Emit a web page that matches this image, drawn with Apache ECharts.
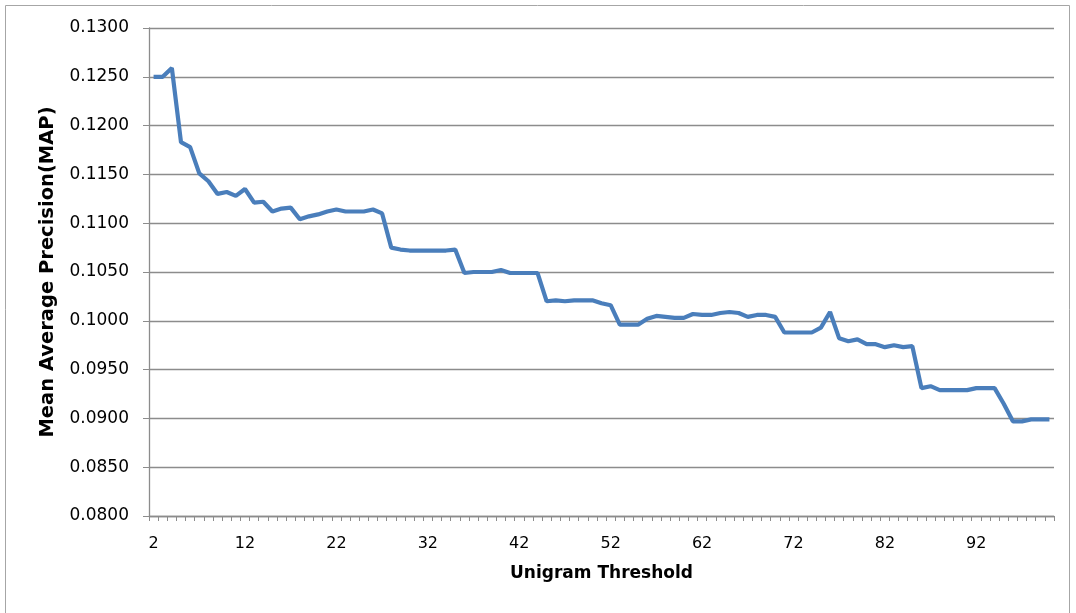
<!DOCTYPE html>
<html>
<head>
<meta charset="utf-8">
<script src="https://cdn.jsdelivr.net/npm/echarts@6/dist/echarts.min.js"></script>
<style>
  html, body { margin: 0; padding: 0; background: #fff; }
  #chart { width: 1076px; height: 613px; }
</style>
</head>
<body>
<div id="chart"></div>
<script>
// unigram thresholds 2..100
const thresholds = [];
for (let t = 2; t <= 100; t++) thresholds.push(String(t));

// MAP, one value per threshold
const mapValues = [
  0.1250, 0.1250, 0.1259, 0.1183, 0.1178, 0.1151, 0.1143, 0.1130, 0.1132, 0.1128,
  0.1135, 0.1121, 0.1122, 0.1112, 0.1115, 0.1116, 0.1104, 0.1107, 0.1109, 0.1112,
  0.1114, 0.1112, 0.1112, 0.1112, 0.1114, 0.1110, 0.1075, 0.1073, 0.1072, 0.1072,
  0.1072, 0.1072, 0.1072, 0.1073, 0.1049, 0.1050, 0.1050, 0.1050, 0.1052, 0.1049,
  0.1049, 0.1049, 0.1049, 0.1020, 0.1021, 0.1020, 0.1021, 0.1021, 0.1021, 0.1018,
  0.1016, 0.0996, 0.0996, 0.0996, 0.1002, 0.1005, 0.1004, 0.1003, 0.1003, 0.1007,
  0.1006, 0.1006, 0.1008, 0.1009, 0.1008, 0.1004, 0.1006, 0.1006, 0.1004, 0.0988,
  0.0988, 0.0988, 0.0988, 0.0993, 0.1009, 0.0982, 0.0979, 0.0981, 0.0976, 0.0976,
  0.0973, 0.0975, 0.0973, 0.0974, 0.0931, 0.0933, 0.0929, 0.0929, 0.0929, 0.0929,
  0.0931, 0.0931, 0.0931, 0.0915, 0.0897, 0.0897, 0.0899, 0.0899, 0.0899
];

const yMin = 0.08;
const yMax = 0.13;
const yStep = 0.005;

const chart = echarts.init(document.getElementById("chart"));
const option = {
  animation: false,
  backgroundColor: "#fff",
  textStyle: { fontFamily: "DejaVu Sans" },
  graphic: [
    {
      type: "rect",
      shape: { x: 5.5, y: 5.5, width: 1064, height: 620 },
      style: { fill: "none", stroke: "#a6a6a6", lineWidth: 1 },
      silent: true,
    },
  ],
  grid: { left: 149, right: 22, top: 28, bottom: 97 },
  xAxis: {
    type: "category",
    data: thresholds,
    boundaryGap: true,
    name: "Unigram Threshold",
    nameLocation: "middle",
    nameGap: 49,
    nameTextStyle: { fontSize: 17, fontWeight: "bold", color: "#000" },
    axisLine: { lineStyle: { color: "#8c8c8c", width: 1.3 } },
    axisTick: { show: true, interval: 0, length: 5, lineStyle: { color: "#8c8c8c" } },
    axisLabel: { interval: 9, margin: 20, fontSize: 16, color: "#000" },
    splitLine: { show: false },
  },
  yAxis: {
    type: "value",
    min: yMin,
    max: yMax,
    interval: yStep,
    name: "Mean Average Precision(MAP)",
    nameLocation: "middle",
    nameGap: 91,
    nameTextStyle: { fontSize: 19.5, fontWeight: "bold", color: "#000" },
    axisLine: { show: true, lineStyle: { color: "#8c8c8c", width: 1.3 } },
    axisTick: { show: true, length: 6, lineStyle: { color: "#8c8c8c" } },
    axisLabel: {
      margin: 20,
      fontSize: 17,
      color: "#000",
      formatter: (v) => v.toFixed(4),
    },
    splitLine: { lineStyle: { color: "#8c8c8c", width: 1.3 } },
  },
  series: [
    {
      type: "line",
      data: mapValues,
      symbol: "none",
      lineStyle: { color: "#4a7ebb", width: 4.2 },
    },
  ],
};
chart.setOption(option);
</script>
</body>
</html>
